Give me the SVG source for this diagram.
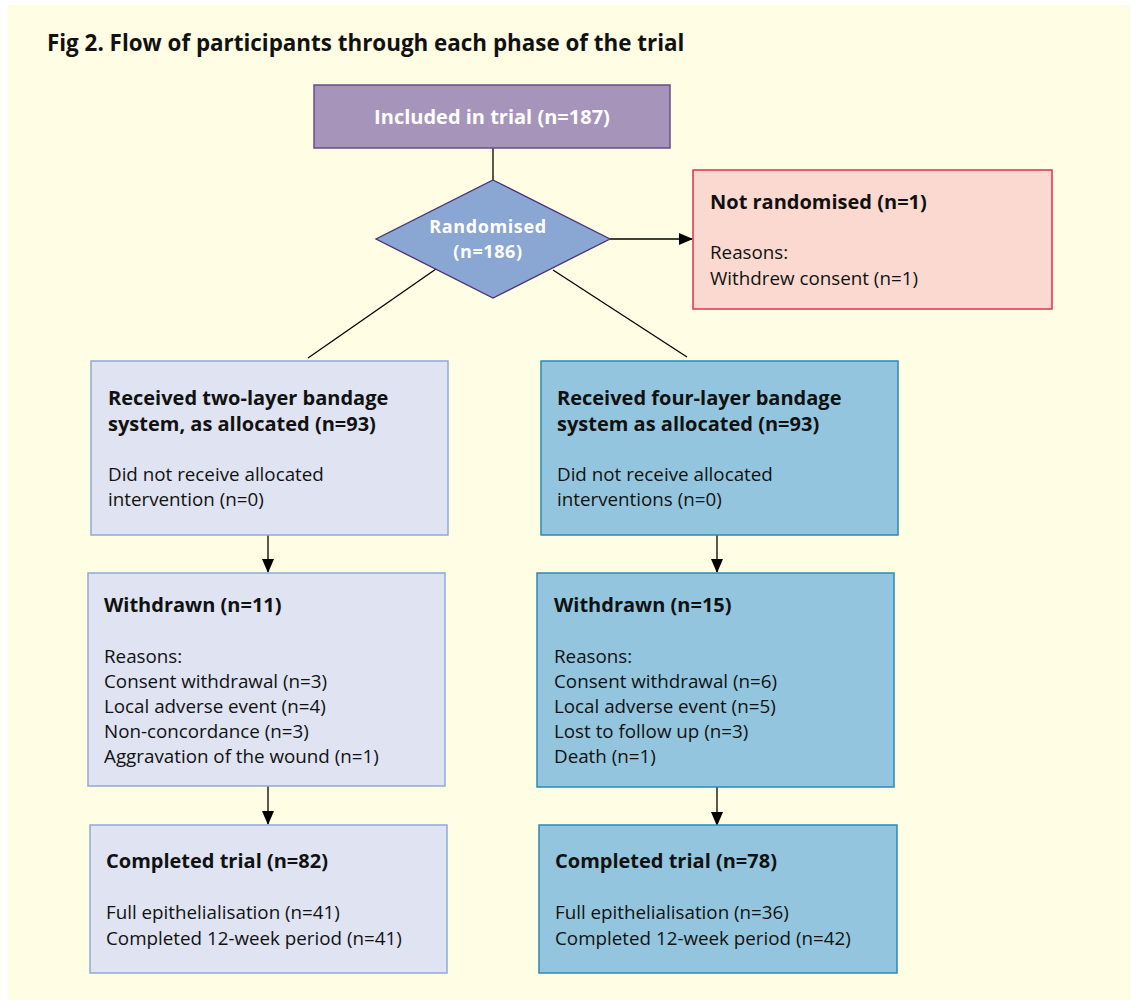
<svg xmlns="http://www.w3.org/2000/svg" width="1132" height="1000" viewBox="0 0 1132 1000">
<defs>
<marker id="arr" markerWidth="14" markerHeight="12" refX="13" refY="6" orient="auto" markerUnits="userSpaceOnUse">
<path d="M0,0 L14,6 L0,12 Z" fill="#000"/>
</marker>
<style>
.t{font-family:"Open Sans",Lato,"Liberation Sans",sans-serif;font-size:18.8px;fill:#111}
.b{font-weight:bold;font-size:20px}
.w{fill:#fff;font-weight:bold;font-size:20px}
.d{fill:#fff;font-weight:bold;font-size:18px;letter-spacing:0.6px}
.c{stroke:#000;stroke-width:1.3;fill:none}
.lb{fill:#DFE3F2;stroke:#8FA9D8;stroke-width:1.5}
.rb{fill:#93C6DE;stroke:#2A8AB8;stroke-width:1.5}
</style>
</defs>
<rect x="0" y="0" width="1132" height="1000" fill="#fff"/>
<rect x="8" y="5" width="1122" height="995" fill="#FFFDE3"/>
<text class="t b" x="47" y="51" style="font-size:22.4px">Fig 2. Flow of participants through each phase of the trial</text>

<g id="connectors">
<line class="c" x1="493" y1="148" x2="493" y2="180"/>
<line class="c" x1="610" y1="239" x2="692" y2="239" marker-end="url(#arr)"/>
<line class="c" x1="436" y1="269" x2="308" y2="358"/>
<line class="c" x1="553" y1="270" x2="687" y2="357"/>
<line class="c" x1="268" y1="535" x2="268" y2="572" marker-end="url(#arr)"/>
<line class="c" x1="717" y1="535" x2="717" y2="572" marker-end="url(#arr)"/>
<line class="c" x1="268" y1="786" x2="268" y2="824" marker-end="url(#arr)"/>
<line class="c" x1="717" y1="787" x2="717" y2="825" marker-end="url(#arr)"/>
</g>

<g id="included">
<rect x="314" y="85" width="356" height="63" fill="#A794BB" stroke="#6B4C8A" stroke-width="1.5"/>
<text class="t w" x="492" y="124" text-anchor="middle">Included in trial (n=187)</text>
</g>

<g id="randomised">
<polygon points="493,180 610,239 493,298 376,239" fill="#8AA6D2" stroke="#4B2F7A" stroke-width="1.3"/>
<text class="t d" x="488" y="233" text-anchor="middle">Randomised</text>
<text class="t d" x="488" y="258" text-anchor="middle">(n=186)</text>
</g>

<g id="not-randomised">
<rect x="693" y="170" width="359" height="139" fill="#FBD9D0" stroke="#E0304A" stroke-width="1.5"/>
<text class="t b" x="710" y="209">Not randomised (n=1)</text>
<text class="t" x="710" y="259">Reasons:</text>
<text class="t" x="710" y="285">Withdrew consent (n=1)</text>
</g>

<g id="two-layer">
<rect class="lb" x="91" y="361" width="357" height="174"/>
<text class="t b" x="108" y="405">Received two-layer bandage</text>
<text class="t b" x="108" y="431">system, as allocated (n=93)</text>
<text class="t" x="108" y="481">Did not receive allocated</text>
<text class="t" x="108" y="506">intervention (n=0)</text>
</g>

<g id="four-layer">
<rect class="rb" x="541" y="361" width="357" height="174"/>
<text class="t b" x="557" y="405">Received four-layer bandage</text>
<text class="t b" x="557" y="431">system as allocated (n=93)</text>
<text class="t" x="557" y="481">Did not receive allocated</text>
<text class="t" x="557" y="506">interventions (n=0)</text>
</g>

<g id="withdrawn-left">
<rect class="lb" x="88" y="573" width="357" height="213"/>
<text class="t b" x="104" y="612">Withdrawn (n=11)</text>
<text class="t" x="104" y="663">Reasons:</text>
<text class="t" x="104" y="688">Consent withdrawal (n=3)</text>
<text class="t" x="104" y="713">Local adverse event (n=4)</text>
<text class="t" x="104" y="738">Non-concordance (n=3)</text>
<text class="t" x="104" y="763">Aggravation of the wound (n=1)</text>
</g>

<g id="withdrawn-right">
<rect class="rb" x="537" y="573" width="357" height="214"/>
<text class="t b" x="554" y="612">Withdrawn (n=15)</text>
<text class="t" x="554" y="663">Reasons:</text>
<text class="t" x="554" y="688">Consent withdrawal (n=6)</text>
<text class="t" x="554" y="713">Local adverse event (n=5)</text>
<text class="t" x="554" y="738">Lost to follow up (n=3)</text>
<text class="t" x="554" y="763">Death (n=1)</text>
</g>

<g id="completed-left">
<rect class="lb" x="90" y="825" width="357" height="148"/>
<text class="t b" x="106" y="868">Completed trial (n=82)</text>
<text class="t" x="106" y="919">Full epithelialisation (n=41)</text>
<text class="t" x="106" y="945">Completed 12-week period (n=41)</text>
</g>

<g id="completed-right">
<rect class="rb" x="539" y="825" width="358" height="148"/>
<text class="t b" x="555" y="868">Completed trial (n=78)</text>
<text class="t" x="555" y="919">Full epithelialisation (n=36)</text>
<text class="t" x="555" y="945">Completed 12-week period (n=42)</text>
</g>
</svg>
